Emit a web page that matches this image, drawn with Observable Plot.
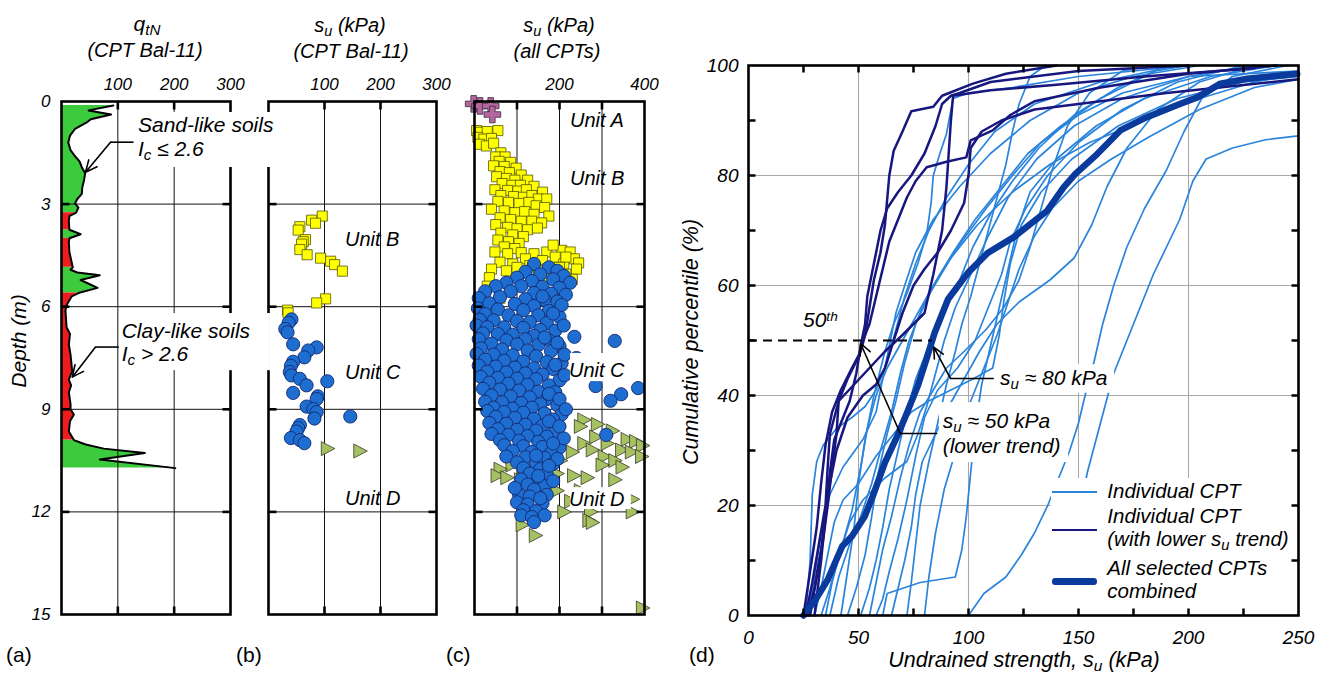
<!DOCTYPE html>
<html><head><meta charset="utf-8">
<script src="https://cdn.jsdelivr.net/npm/d3@7"></script>
<script src="https://cdn.jsdelivr.net/npm/@observablehq/plot@0.6"></script>
<style>
body{margin:0;background:#fff;overflow:hidden}
#fig{position:relative;width:1325px;height:675px;font-family:"Liberation Sans",Arial,Helvetica,sans-serif;color:#000;overflow:hidden;background:#fff}
.pan{position:absolute;top:0}
.t{position:absolute;white-space:nowrap;line-height:1}
.sb{position:relative;top:0.28em;font-size:0.72em}
.sp{position:relative;top:-0.45em;font-size:0.65em}
.sw{position:absolute}
</style></head><body><div id="fig"></div><script>
// ---------------- data ----------------
// panel (a): qtN profile, CPT Bal-11
const depthA = [0.12,0.26,0.38,0.52,0.62,0.8,1.0,1.2,1.42,1.6,1.75,1.92,2.1,2.3,2.5,2.7,2.85,2.98,3.1,3.25,3.35,3.5,3.75,3.88,4.0,4.1,4.4,4.7,4.85,4.92,5.0,5.08,5.22,5.45,5.6,5.7,5.92,6.1,6.6,6.8,7.1,7.4,7.9,8.0,8.13,8.3,8.5,8.85,9.0,9.15,9.35,9.65,9.9,10.03,10.15,10.28,10.47,10.72];
const qtnA   = [92,48,88,52,44,24,15,12,16,24,32,36,42,40,37,36,28,24,30,26,14,13,14,34,14,13,14,18,20,16,28,68,34,64,30,18,10,7,9,15,13,16,19,16,13,17,13,16,16,22,15,13,22,43,75,148,68,202];
const zoneA  = ["S","S","S","S","S","S","S","S","S","S","S","S","S","S","S","S","S","S","S","S","C","C","C","S","S","C","C","C","C","S","S","S","S","S","S","C","C","C","C","C","C","C","C","C","C","C","C","C","C","C","C","C","C","S","S","S","S","S"];

// panel (b): su CPT Bal-11  [su kPa, depth m]
const bUnitB = [[96,3.35],[77,3.47],[84,3.56],[56,3.66],[53,3.76],[66,4.04],[62,4.1],[59,4.17],[56,4.33],[69,4.48],[93,4.58],[111,4.67],[118,4.77],[132,4.96],[102,5.77],[86,5.89],[34,6.1],[35,6.18]];
const bUnitC = [[41,6.37],[36,6.47],[30,6.65],[34,6.75],[44,7.1],[86,7.19],[71,7.28],[64,7.48],[44,7.61],[40,7.73],[38,7.91],[41,8.01],[56,8.11],[68,8.3],[105,8.18],[44,8.52],[88,8.62],[86,8.7],[68,8.92],[80,8.99],[86,9.08],[82,9.27],[146,9.21],[56,9.46],[53,9.55],[50,9.65],[40,9.84],[56,9.9],[64,9.99]];
const bUnitD = [[105,10.15],[163,10.22]];

// panel (c): su all CPTs  [su kPa, depth m]
const cUnitA = [[-2,0.07],[13,0.13],[38,0.13],[42,0.38]];
const cUnitB = [[5,0.85],[14,0.9],[30,0.88],[55,0.85],[8,1.05],[22,1.1],[40,1.08],[12,1.25],[28,1.3],[45,1.22],
 [62,1.5],[50,1.62],[72,1.62],[58,1.75],[85,1.78],[45,1.88],[70,1.9],[98,1.95],[60,2.05],[82,2.08],[110,2.15],[52,2.2],
 [75,2.25],[95,2.3],[125,2.3],[65,2.4],[88,2.45],[108,2.45],[140,2.48],[48,2.58],[78,2.6],[102,2.62],[122,2.58],[160,2.65],[62,2.75],[92,2.78],[115,2.8],[135,2.75],[150,2.85],[170,2.85],[55,2.92],[80,2.95],[105,2.98],[128,2.95],
 [145,3.05],[165,3.1],[40,3.15],[70,3.2],[95,3.25],[118,3.22],[140,3.3],[175,3.35],[60,3.4],[85,3.45],[110,3.5],[135,3.5],[158,3.55],[50,3.6],[78,3.68],[100,3.72],[125,3.75],[148,3.7],[62,3.85],[90,3.9],[115,3.95],
 [55,4.05],[80,4.1],[105,4.15],[70,4.25],[95,4.3],[48,4.4],[78,4.45],[110,4.42],[140,4.45],[170,4.4],[205,4.35],[225,4.4],[190,4.55],[235,4.6],[120,4.6],[160,4.65],[60,4.7],[90,4.75],[210,4.75],[245,4.72],
 [185,4.2],[215,4.55],[240,4.9],[200,4.85],[170,4.9],[150,4.95],[130,4.8],[230,5.2],[100,4.85],
 [40,4.9],[75,4.95],[180,5.0],[215,5.05],[35,5.15],[160,5.25],[200,5.3],[30,5.4],[150,5.45],[185,5.6],[25,5.6],[60,5.75],[20,5.85]];
const cUnitC = [[140,4.75],[175,4.85],[195,4.95],[120,4.98],[155,5.05],[210,5.1],[100,5.15],[185,5.2],[135,5.25],[225,5.3],[75,5.3],
 [50,5.4],[110,5.4],[160,5.42],[200,5.45],[25,5.55],[85,5.55],[140,5.6],[180,5.62],[215,5.65],[10,5.75],[60,5.72],[120,5.78],[165,5.8],[195,5.85],[35,5.9],[95,5.92],[140,5.98],
 [8,6.05],[55,6.08],[115,6.1],[175,6.12],[25,6.22],[80,6.25],[150,6.25],[200,6.3],[12,6.38],[45,6.4],[100,6.42],[130,6.45],[170,6.48],[5,6.55],[30,6.6],[70,6.6],[115,6.62],[155,6.68],[190,6.7],[20,6.78],[55,6.8],[90,6.82],[140,6.85],[235,6.88],[10,6.95],[75,6.98],[120,6.95],[175,6.98],[330,7.0],
 [40,7.08],[100,7.1],[150,7.12],[200,7.15],[15,7.22],[65,7.25],[125,7.28],[180,7.3],[5,7.38],[45,7.4],[90,7.42],[145,7.45],[240,7.5],[25,7.55],[70,7.58],[115,7.6],[170,7.62],[205,7.65],[10,7.72],[50,7.75],[95,7.78],[140,7.8],[185,7.82],[30,7.9],[75,7.92],[120,7.95],[160,7.98],
 [15,8.05],[55,8.08],[100,8.1],[145,8.12],[200,8.15],[35,8.22],[80,8.25],[125,8.28],[175,8.3],[285,8.32],[385,8.38],[20,8.4],[60,8.42],[105,8.45],[150,8.48],[190,8.5],[345,8.56],[40,8.6],[85,8.62],[130,8.65],[170,8.7],[320,8.75],[25,8.78],[65,8.8],[110,8.82],[155,8.85],[195,8.88],[45,8.95],[90,8.98],[135,8.95],
 [30,9.05],[70,9.08],[115,9.1],[165,9.12],[205,9.15],[50,9.22],[95,9.25],[140,9.28],[185,9.3],[35,9.4],[75,9.42],[120,9.45],[160,9.48],[55,9.58],[100,9.6],[145,9.62],[190,9.65],[310,9.75],[40,9.72],[80,9.75],[125,9.78],[170,9.8],[60,9.9],[105,9.92],[150,9.95],
 [70,10.05],[115,10.08],[160,10.1],[200,10.12],[90,10.22],[135,10.25],[180,10.28],[75,10.38],[120,10.4],[165,10.42],[100,10.55],[145,10.58],[185,10.6],[115,10.72],[155,10.75],[130,10.88],[170,10.9],
 [110,11.05],[150,11.08],[125,11.2],[165,11.25],[140,11.35],[105,11.5],[130,11.55],[170,11.5],[100,11.72],[125,11.78],[160,11.75],[115,11.95],[145,11.98],[110,12.1],[135,12.15],[165,12.1],[140,12.3],
 [160,5.7],[205,5.95],[185,6.2],[210,6.55],[165,6.9],[195,7.05],[212,7.4],[190,7.7],[212,8.0],[175,8.55],[200,8.7],[215,9.0],[175,9.35],[200,9.5],[210,9.85],[185,10.0],[145,10.35],[195,10.45],[175,10.65],[150,10.95],[185,11.1],[95,11.3],[155,11.6]];
const cUnitD = [[257,9.31],[289,9.44],[249,9.5],[324,9.63],[359,9.88],[379,9.94],[395,10.06],[285,9.81],[312,10.0],[346,10.19],[369,10.25],[393,10.38],[257,10.0],[277,10.19],[305,10.38],[330,10.5],[300,10.63],[347,10.69],[230,10.25],[202,10.5],[178,10.44],[163,10.69],[139,10.75],[116,10.88],[88,10.63],[60,10.75],[53,10.94],[76,11.0],[108,11.06],[135,11.13],[194,10.88],[233,10.94],[265,11.0],[330,11.06],[194,11.38],[249,11.38],[371,11.63],[226,11.69],[273,12.0],[210,12.0],[371,12.0],[269,12.25],[277,12.31],[112,12.38],[143,12.69],[395,14.81]];

// panel (d): cumulative distributions [su kPa, percentile %]
const cptIndividual = [
 [[26,0],[28,10],[29,22],[31,28],[34,31],[40,34],[47,36],[53,38],[58,41],[63,46],[67,52],[71,58],[76,64],[82,70],[90,76],[100,82],[112,88],[130,93],[160,97],[195,100]],
 [[27,0],[30,7],[33,15],[37,22],[43,27],[52,32],[58,37],[61,43],[64,49],[67,55],[71,60],[76,66],[84,72],[96,78],[110,84],[128,90],[150,95],[175,98],[205,100]],
 [[33,0],[37,5],[42,12],[47,19],[51,27],[54,34],[58,40],[63,45],[70,50],[77,55],[84,60],[93,66],[103,72],[115,78],[127,84],[142,89],[160,94],[185,99],[200,100]],
 [[37,0],[41,7],[46,13],[51,18],[56,24],[60,30],[65,37],[69,44],[73,50],[79,56],[87,62],[97,68],[108,74],[120,80],[133,86],[150,91],[170,95],[200,98],[250,99]],
 [[45,0],[49,5],[53,11],[56,18],[59,26],[63,33],[67,39],[71,46],[76,53],[83,59],[92,65],[104,71],[120,77],[137,82],[155,86],[180,90],[205,94],[230,97],[250,98.5]],
 [[51,0],[55,5],[58,10],[61,16],[64,23],[68,30],[72,37],[76,43],[82,49],[89,55],[96,61],[102,67],[110,73],[120,79],[132,85],[148,91],[168,96],[190,100]],
 [[58,0],[61,3],[64,8],[68,14],[72,21],[76,29],[80,36],[86,41],[95,45],[103,50],[109,56],[115,62],[119,68],[126,74],[136,80],[150,86],[170,92],[195,97],[225,100]],
 [[61,0],[63,4],[78,6],[94,7],[97,12],[99,18],[101,26],[103,34],[106,42],[110,49],[114,56],[118,63],[122,70],[128,77],[140,83],[158,89],[180,94],[210,98],[240,100]],
 [[72,0],[74,6],[76,13],[78,20],[82,28],[86,35],[90,42],[94,48],[97,53],[101,58],[105,64],[109,70],[113,76],[117,82],[120,88],[123,93],[128,98],[135,100]],
 [[80,0],[82,7],[85,15],[89,23],[95,31],[101,39],[107,45],[113,51],[118,57],[123,63],[130,69],[138,74],[150,79],[165,83],[182,87],[205,92],[230,96],[250,97.5]],
 [[100,0],[107,4],[117,7],[124,11],[130,15],[136,20],[141,25],[146,30],[150,35],[153,40],[157,46],[161,53],[166,60],[172,67],[180,74],[190,81],[198,88],[206,94],[220,98],[245,100]],
 [[138,0],[141,5],[145,10],[148,15],[151,20],[154,26],[158,32],[162,38],[166,44],[170,48],[175,53],[179,57],[184,62],[190,67],[196,72],[202,79],[208,83],[220,85],[235,86.5],[250,87.2]],
 [[35,0],[38,6],[42,12],[46,17],[52,21],[62,25],[72,28],[77,33],[81,38],[85,44],[89,50],[94,56],[101,62],[109,69],[118,76],[131,83],[148,89],[170,94],[200,98],[230,100]],
 [[30,0],[33,5],[36,11],[39,17],[43,21],[50,24],[58,29],[66,33],[74,37],[82,39],[92,41],[102,43],[111,45],[114,51],[116,57],[119,64],[124,71],[133,77],[147,83],[168,89],[195,94],[225,97],[250,98]],
 [[65,0],[68,5],[71,10],[74,16],[76,22],[79,28],[85,33],[91,38],[98,43],[105,48],[113,53],[123,57],[137,61],[148,65],[156,71],[163,78],[172,85],[186,92],[205,97],[230,100]],
 [[55,0],[58,6],[61,12],[65,18],[69,25],[73,31],[78,37],[84,41],[90,45],[98,48],[108,52],[116,56],[123,61],[128,67],[133,74],[138,81],[145,89],[155,95],[170,99],[185,100]],
 [[42,0],[45,8],[48,16],[50,24],[53,32],[57,40],[62,48],[66,53],[72,58.5],[77,64],[81,69.4],[83,75],[84,80],[87,84],[90,87.6],[93,94],[100,95],[120,96],[150,98],[200,100]]
];
const cptLowerTrend = [
 [[25,0],[28,8],[31,16],[33,24],[35,31],[38,37],[42,41],[47,45],[51,48],[53,51],[55,56],[57,61],[60,66],[62,71],[64,80],[66,84.5],[70,88],[74,91.7],[84,92.5],[88,94.5],[102,96.7],[117,98.5],[140,100]],
 [[26,0],[29,6],[32,13],[35,20],[36,27],[37,33],[41,39],[45,43],[50,47],[52,50],[55,53],[58,58],[61,63],[64,68],[68,72],[72,76],[76,79],[81,81.5],[90,82.5],[99,83.3],[101,86.4],[111,88.2],[119,91],[130,93.5],[160,96],[200,98.5],[240,100]],
 [[28,0],[31,7],[34,14],[36,20],[38,27],[40,33],[41,39],[48,42],[55,45],[62,48],[70,51],[80,55],[84,62],[88,70],[90,78],[91,84],[92,90],[93,94.5],[110,95.5],[140,96.5],[180,98],[230,99.5]],
 [[30,0],[33,10],[35,18],[37,26],[39,32],[42,35],[46,39],[49,44],[51,49],[53,53],[54,58],[56,62],[58,66],[60,70],[63,74],[68,77],[74,80],[80,84],[85,89],[88,93],[92,94.5],[96,95],[110,97],[150,99],[200,100]],
 [[27,0],[30,5],[33,12],[36,22],[40,30],[45,36],[52,40],[58,42],[62,45],[66,50],[70,55],[75,60],[80,63],[86,66],[92,70],[98,75],[100,80],[101,85],[106,88],[115,90],[130,92],[150,93],[190,95],[250,97.5]]
];
const cptCombined = [[25,0],[30.5,2.9],[36,6.5],[42.6,12.6],[47,14.4],[52.8,18],[56.5,21.7],[62,27.8],[67.6,32.6],[72,36.8],[76.9,41.7],[80.8,46.5],[84.6,51.4],[90.7,57.5],[99.7,62.3],[108.7,65.9],[120.6,68.8],[135.8,73.6],[143.3,77.9],[148.6,80.3],[158.5,83.9],[169,88.2],[181,90.6],[196,93],[204,94.2],[214.5,96.7],[226.7,97.6],[249.4,98.5]];

// ticks / grid
const depthTickLabels = [0,3,6,9,12,15];
const depthGrid = [3,6,9,12];
const abXTickLabels = [100,200,300];
const abXGrid = [100,200];
const cXTickLabels = [200,400];
const cXGrid = [100,200,300];
const dXTickLabels = [0,50,100,150,200,250];
const dYTickLabels = [0,20,40,60,80,100];
const dXGrid = [50,100,150,200];
const dYGrid = [20,40,60,80];
const dXTickMarks = [25,50,75,100,125,150,175,200,225];
const dYTickMarks = [10,20,30,40,50,60,70,80,90];

// annotations (data units)
const aArrows = [{x1:87,y1:1.19,x2:42.6,y2:2.07},{x1:60.4,y1:7.18,x2:19,y2:8.06}];
const aLeaders = [{x1:87,y1:1.19,x2:127.8,y2:1.19},{x1:60.4,y1:7.18,x2:101.7,y2:7.18}];
const aBoxes = [{x1:133,x2:334,y1:0.32,y2:1.93},{x1:104.7,x2:334,y1:6.2,y2:7.87}];
const bBoxes = [{x1:-40,x2:21,y1:0.32,y2:1.93},{x1:-40,x2:3.5,y1:6.2,y2:7.87}];
const cBoxes = [{x1:226,x2:376,y1:7.37,y2:8.19},{x1:226,x2:369,y1:11.29,y2:11.93}];
const dArrows = [{x1:69,y1:33.1,x2:50.9,y2:49.5},{x1:91.8,y1:43.1,x2:84.2,y2:48.8}];
const dLeaders = [{x1:69,y1:33.1,x2:85.8,y2:33.1},{x1:91.8,y1:43.1,x2:111.5,y2:43.1}];
const dMedian = [{p:50,x1:0,x2:83.5}];
const dBoxes = [{x1:86.8,x2:145.5,y1:27.8,y2:38.7},{x1:113.2,x2:166.4,y1:40.4,y2:45.6},{x1:137.7,x2:250,y1:0,y2:24.9}];

// ---------------- style ----------------
const FONT = '"Liberation Sans", Arial, Helvetica, sans-serif';
const GREEN="#3ccb3c", RED="#ee1c1c", YEL="#ffff00", BLUE="#1e6ed2", OLIVE="#a6c162", MAUVE="#b4679f";
const LIGHT="#2a84dc", NAVY="#17177f", THICK="#0a3a9c";
const seg = (dx,dy)=>({draw(ctx){ctx.moveTo(0,0);ctx.lineTo(dx,dy);}});
const triRight = {draw(ctx,size){const k=Math.sqrt(size/Math.PI)/6.5;ctx.moveTo(-6*k,-7*k);ctx.lineTo(7.5*k,0);ctx.lineTo(-6*k,7*k);ctx.closePath();}};
const fig = document.getElementById("fig");

function mount(plot, left){
  const d = document.createElement("div"); d.className="pan"; d.style.left=left+"px";
  d.appendChild(plot); fig.appendChild(d);
}
const P = a => a[0], D = a => a[1];

function depthPanel({left,width,mL,frameW,xMax,xLabels,xGrid,gridOnTop,data,after,yLabels}){
  const grid = [
    Plot.ruleX(xGrid,{stroke:"#111",strokeWidth:1}),
    Plot.ruleY(depthGrid,{stroke:"#111",strokeWidth:1})
  ];
  const tk = {stroke:"black",strokeWidth:2.6,fill:"none"};
  const plot = Plot.plot({
    width, height:640, marginLeft:mL, marginRight:width-mL-frameW, marginTop:101, marginBottom:26,
    x:{domain:[0,xMax],axis:null}, y:{domain:[15,0],axis:null},
    style:{fontFamily:FONT,background:"transparent",overflow:"visible"},
    marks:[
      ...(gridOnTop?[]:grid),
      ...data,
      ...(gridOnTop?grid:[]),
      Plot.dot(depthGrid,{x:()=>0,y:d=>d,symbol:seg(8,0),...tk}),
      Plot.dot(depthGrid,{x:()=>xMax,y:d=>d,symbol:seg(-8,0),...tk}),
      Plot.dot(xGrid,{x:d=>d,y:()=>0,symbol:seg(0,8),...tk}),
      Plot.dot(xGrid,{x:d=>d,y:()=>15,symbol:seg(0,-8),...tk}),
      Plot.frame({stroke:"black",strokeWidth:2.6}),
      ...(after||[]),
      Plot.text(xLabels,{x:d=>d,y:()=>0,dy:-17,text:d=>String(d),fontSize:17,fontStyle:"italic"}),
      ...(yLabels?[Plot.text(depthTickLabels,{x:()=>0,y:d=>d,dx:-11,textAnchor:"end",text:d=>String(d),fontSize:17,fontStyle:"italic"})]:[])
    ]
  });
  mount(plot,left);
}

// panel a segments by soil behaviour
const prof = depthA.map((d,i)=>({d,q:qtnA[i],zone:zoneA[i]}));
const segPts=[]; let sid=0;
prof.forEach((p,i)=>{ if(i>0 && p.zone!==prof[i-1].zone){sid++; segPts.push({...prof[i-1],seg:sid,zone:p.zone});} segPts.push({...p,seg:sid}); });

depthPanel({left:0,width:249,mL:61,frameW:169,xMax:300,xLabels:abXTickLabels,xGrid:abXGrid,gridOnTop:true,yLabels:true,
  data:[
    Plot.areaX(segPts.filter(p=>p.zone==="S"),{x1:()=>0,x2:"q",y:"d",z:"seg",fill:GREEN}),
    Plot.areaX(segPts.filter(p=>p.zone==="C"),{x1:()=>0,x2:"q",y:"d",z:"seg",fill:RED}),
    Plot.line(prof,{x:"q",y:"d",stroke:"black",strokeWidth:2,strokeLinejoin:"round"})
  ],
  after:[
    Plot.rect(aBoxes,{x1:"x1",x2:"x2",y1:"y1",y2:"y2",fill:"white"}),
    Plot.link(aLeaders,{x1:"x1",y1:"y1",x2:"x2",y2:"y2",stroke:"black",strokeWidth:1.6}),
    Plot.arrow(aArrows,{x1:"x1",y1:"y1",x2:"x2",y2:"y2",stroke:"black",strokeWidth:1.6,headLength:12,headAngle:50})
  ]});

const sq = {x:P,y:D,symbol:"square",r:5.7,fill:YEL,stroke:"#555500",strokeWidth:0.8};
const ci = {x:P,y:D,symbol:"circle",r:6.6,fill:BLUE,stroke:"#14286e",strokeWidth:0.9};
const tr = {x:P,y:D,symbol:triRight,r:6.5,fill:OLIVE,stroke:"#3a3a2a",strokeWidth:0.8};

depthPanel({left:249,width:206,mL:19,frameW:168,xMax:300,xLabels:abXTickLabels,xGrid:abXGrid,
  data:[Plot.dot(bUnitB,sq),Plot.dot(bUnitD,tr),Plot.dot(bUnitC,ci)],
  after:[Plot.rect(bBoxes,{x1:"x1",x2:"x2",y1:"y1",y2:"y2",fill:"white"})]});

depthPanel({left:455,width:210,mL:19,frameW:170,xMax:400,xLabels:cXTickLabels,xGrid:cXGrid,
  data:[Plot.dot(cUnitB,sq),Plot.dot(cUnitD,tr),Plot.dot(cUnitC,ci),
        Plot.dot(cUnitA,{x:P,y:D,symbol:"cross",r:7,fill:MAUVE,stroke:"#3a2a3a",strokeWidth:0.8}),
        Plot.rect(cBoxes,{x1:"x1",x2:"x2",y1:"y1",y2:"y2",fill:"white"})]});

// panel d
const flat = (arr)=>arr.flatMap((l,i)=>l.map(([su,p])=>({su,p,id:i})));
{
  const tk = {stroke:"black",strokeWidth:2.5,fill:"none"};
  const plot = Plot.plot({
    width:660,height:675,marginLeft:83,marginRight:27,marginTop:65,marginBottom:60,
    x:{domain:[0,250],axis:null}, y:{domain:[0,100],axis:null},
    style:{fontFamily:FONT,background:"transparent",overflow:"visible"},
    marks:[
      Plot.ruleX(dXGrid,{stroke:"#a8a8a8",strokeWidth:1.1}),
      Plot.ruleY(dYGrid,{stroke:"#a8a8a8",strokeWidth:1.1}),
      Plot.line(flat(cptIndividual),{x:"su",y:"p",z:"id",stroke:LIGHT,strokeWidth:1.7,strokeLinejoin:"round"}),
      Plot.line(flat(cptLowerTrend),{x:"su",y:"p",z:"id",stroke:NAVY,strokeWidth:2.5,strokeLinejoin:"round"}),
      Plot.line(cptCombined,{x:P,y:D,stroke:THICK,strokeWidth:6.5,strokeLinejoin:"round",strokeLinecap:"round"}),
      Plot.ruleY(dMedian,{y:"p",x1:"x1",x2:"x2",stroke:"black",strokeWidth:2,strokeDasharray:"9,6"}),
      Plot.rect(dBoxes,{x1:"x1",x2:"x2",y1:"y1",y2:"y2",fill:"white"}),
      Plot.link(dLeaders,{x1:"x1",y1:"y1",x2:"x2",y2:"y2",stroke:"black",strokeWidth:1.6}),
      Plot.arrow(dArrows,{x1:"x1",y1:"y1",x2:"x2",y2:"y2",stroke:"black",strokeWidth:1.6,headLength:12,headAngle:50}),
      Plot.dot(dXTickMarks,{x:d=>d,y:()=>100,symbol:seg(0,7),...tk}),
      Plot.dot(dXTickMarks,{x:d=>d,y:()=>0,symbol:seg(0,-7),...tk}),
      Plot.dot(dYTickMarks,{x:()=>0,y:d=>d,symbol:seg(7,0),...tk}),
      Plot.dot(dYTickMarks,{x:()=>250,y:d=>d,symbol:seg(-7,0),...tk}),
      Plot.frame({stroke:"black",strokeWidth:2.6}),
      Plot.text(dXTickLabels,{x:d=>d,y:()=>0,dy:22,text:d=>String(d),fontSize:19,fontStyle:"italic"}),
      Plot.text(dYTickLabels,{x:()=>0,y:d=>d,dx:-10,textAnchor:"end",text:d=>String(d),fontSize:19,fontStyle:"italic"})
    ]
  });
  mount(plot,665);
}

// ---------------- html text ----------------
function label(html,x,base,size,{anchor="start",italic=true}={}){
  const el=document.createElement("div"); el.className="t"; el.innerHTML=html;
  el.style.fontSize=size+"px"; el.style.left=x+"px"; el.style.top=(base-0.8465*size)+"px";
  el.style.fontStyle=italic?"italic":"normal";
  if(anchor==="middle") el.style.transform="translateX(-50%)";
  fig.appendChild(el);
}
function vlabel(html,cx,cy,size){
  const el=document.createElement("div"); el.className="t"; el.innerHTML=html;
  el.style.fontSize=size+"px"; el.style.left=cx+"px"; el.style.top=cy+"px"; el.style.fontStyle="italic";
  el.style.transform="translate(-50%,-50%) rotate(-90deg)";
  fig.appendChild(el);
}
function swatch(x,y,w,h,color,rad){
  const el=document.createElement("div"); el.className="sw";
  Object.assign(el.style,{left:x+"px",top:(y-h/2)+"px",width:w+"px",height:h+"px",background:color,borderRadius:(rad||0)+"px"});
  fig.appendChild(el);
}
// titles
label('q<span class="sb">tN</span>',147,31,21,{anchor:"middle"});
label('(CPT Bal-11)',145,57,20,{anchor:"middle"});
label('s<span class="sb">u</span> (kPa)',350,32,20,{anchor:"middle"});
label('(CPT Bal-11)',351,58,20,{anchor:"middle"});
label('s<span class="sb">u</span> (kPa)',559,32,20,{anchor:"middle"});
label('(all CPTs)',557,58,20,{anchor:"middle"});
// axis titles
vlabel('Depth (m)',18,341,21);
vlabel('Cumulative percentile (%)',692,342,21.5);
label('Undrained strength, s<span class="sb">u</span> (kPa)',1024,668,21.5,{anchor:"middle"});
// panel letters
label('(a)',6,662,21,{italic:false});
label('(b)',236,662,21,{italic:false});
label('(c)',446,662,21,{italic:false});
label('(d)',689,662,21,{italic:false});
// panel a annotations
label('Sand-like soils',138,131.7,21);
label('I<span class="sb">c</span> ≤ 2.6',138,156,21);
label('Clay-like soils',121.7,337.3,21);
label('I<span class="sb">c</span> &gt; 2.6',121.7,361,21);
// units
label('Unit B',345,245.7,20);
label('Unit C',345,379,20);
label('Unit D',345,505,20);
label('Unit A',570,127,20);
label('Unit B',570,185,20);
label('Unit C',569,377,20);
label('Unit D',569,506,20);
// panel d annotations
label('50<span class="sp">th</span>',803,327,21);
label('s<span class="sb">u</span> ≈ 80 kPa',1000,385,21);
label('s<span class="sb">u</span> ≈ 50 kPa',942.7,428,21);
label('(lower trend)',942.7,453,21);
// legend
swatch(1052,491.7,45,1.8,LIGHT);
swatch(1052,530,45,2.6,NAVY);
swatch(1052,581.7,45,6.5,THICK,3.2);
label('Individual CPT',1107.3,498,20.5);
label('Individual CPT',1107.3,523,20.5);
label('(with lower s<span class="sb">u</span> trend)',1107.3,546.7,20.5);
label('All selected CPTs',1107.3,575,20.5);
label('combined',1107.3,598,20.5);
</script></body></html>
